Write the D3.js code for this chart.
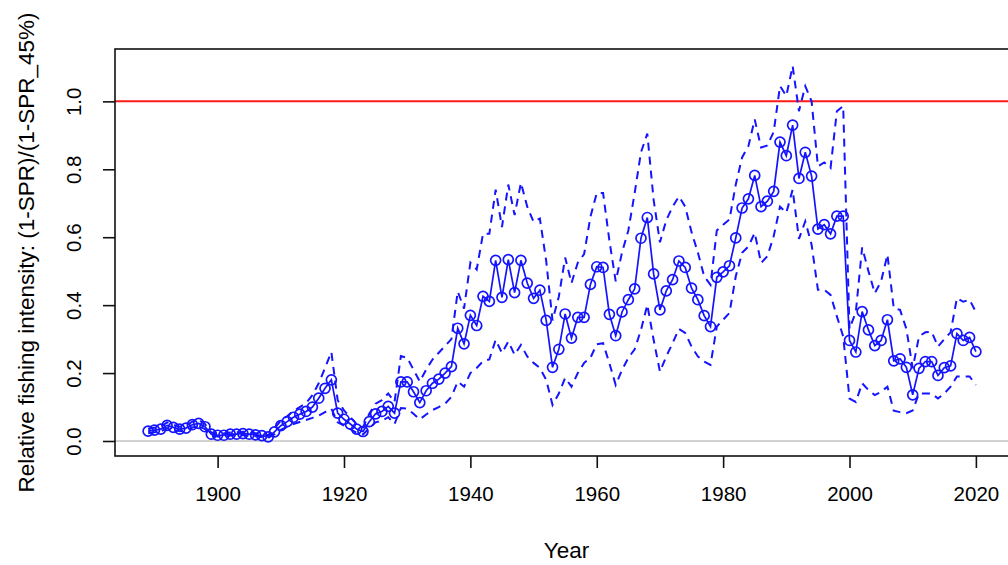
<!DOCTYPE html>
<html>
<head>
<meta charset="utf-8">
<script src="https://cdn.jsdelivr.net/npm/d3@7"></script>
<style>
  html, body { margin: 0; padding: 0; background: #fff; }
  svg { display: block; }
  text { font-family: "Liberation Sans", Arial, Helvetica, sans-serif; fill: #000; }
</style>
</head>
<body>
<svg id="chart" width="1008" height="565"></svg>
<script>
// Relative fishing intensity by year, with upper and lower interval bounds
const years = d3.range(1889, 2021);

const intensity = [
  0.029, 0.032, 0.035, 0.046, 0.040, 0.035, 0.038, 0.048, 0.052, 0.042, // 1889-1898
  0.020, 0.017, 0.017, 0.020, 0.020, 0.022, 0.020, 0.018, 0.016, 0.012, // 1899-1908
  0.027, 0.045, 0.057, 0.070, 0.079, 0.087, 0.100, 0.126, 0.155, 0.180, // 1909-1918
  0.082, 0.064, 0.050, 0.035, 0.028, 0.057, 0.080, 0.087, 0.102, 0.082, // 1919-1928
  0.174, 0.174, 0.145, 0.113, 0.148, 0.170, 0.182, 0.200, 0.219, 0.332, // 1929-1938
  0.286, 0.370, 0.340, 0.426, 0.411, 0.532, 0.423, 0.534, 0.437, 0.532, // 1939-1948
  0.465, 0.420, 0.444, 0.355, 0.217, 0.270, 0.374, 0.303, 0.364, 0.364, // 1949-1958
  0.461, 0.513, 0.511, 0.373, 0.310, 0.380, 0.416, 0.448, 0.597, 0.658, // 1959-1968
  0.492, 0.386, 0.442, 0.475, 0.530, 0.511, 0.450, 0.416, 0.369, 0.337, // 1969-1978
  0.482, 0.498, 0.516, 0.598, 0.686, 0.713, 0.782, 0.690, 0.706, 0.735, // 1979-1988
  0.880, 0.840, 0.930, 0.773, 0.850, 0.780, 0.624, 0.637, 0.610, 0.662, // 1989-1998
  0.662, 0.296, 0.262, 0.381, 0.327, 0.281, 0.296, 0.357, 0.236, 0.242, // 1999-2008
  0.217, 0.136, 0.214, 0.234, 0.234, 0.193, 0.216, 0.221, 0.316, 0.296, // 2009-2018
  0.305, 0.263                                                          // 2019-2020
];

const upper = [
  0.036, 0.039, 0.042, 0.055, 0.048, 0.042, 0.046, 0.057, 0.062, 0.050,
  0.025, 0.022, 0.022, 0.025, 0.025, 0.027, 0.025, 0.023, 0.021, 0.017,
  0.037, 0.060, 0.073, 0.088, 0.100, 0.112, 0.135, 0.170, 0.215, 0.262,
  0.120, 0.090, 0.070, 0.050, 0.040, 0.080, 0.110, 0.120, 0.140, 0.115,
  0.250, 0.245, 0.210, 0.175, 0.210, 0.240, 0.260, 0.280, 0.300, 0.440,
  0.390, 0.525, 0.505, 0.610, 0.610, 0.740, 0.630, 0.755, 0.665, 0.760,
  0.690, 0.645, 0.655, 0.530, 0.355, 0.425, 0.540, 0.465, 0.525, 0.550,
  0.660, 0.730, 0.730, 0.590, 0.470, 0.555, 0.620, 0.730, 0.850, 0.905,
  0.710, 0.585, 0.650, 0.690, 0.720, 0.690, 0.615, 0.555, 0.485, 0.460,
  0.620, 0.637, 0.652, 0.755, 0.835, 0.868, 0.947, 0.864, 0.870, 0.910,
  1.045, 1.016, 1.104, 0.971, 1.045, 1.000, 0.809, 0.820, 0.804, 0.971,
  0.986, 0.330, 0.380, 0.570, 0.500, 0.435, 0.470, 0.549, 0.391, 0.386,
  0.330, 0.214, 0.308, 0.320, 0.322, 0.278, 0.300, 0.320, 0.421, 0.410,
  0.416, 0.380
];

const lower = [
  0.023, 0.026, 0.028, 0.038, 0.033, 0.029, 0.031, 0.040, 0.043, 0.035,
  0.016, 0.013, 0.013, 0.016, 0.016, 0.018, 0.016, 0.014, 0.012, 0.009,
  0.020, 0.033, 0.042, 0.050, 0.056, 0.062, 0.068, 0.075, 0.085, 0.095,
  0.055, 0.045, 0.035, 0.024, 0.019, 0.038, 0.055, 0.060, 0.070, 0.050,
  0.097, 0.095, 0.080, 0.064, 0.078, 0.091, 0.100, 0.110, 0.130, 0.175,
  0.160, 0.200, 0.215, 0.235, 0.240, 0.298, 0.259, 0.293, 0.254, 0.283,
  0.249, 0.230, 0.215, 0.180, 0.106, 0.140, 0.186, 0.160, 0.200, 0.230,
  0.245, 0.285, 0.288, 0.229, 0.165, 0.209, 0.245, 0.270, 0.327, 0.401,
  0.298, 0.204, 0.249, 0.288, 0.330, 0.318, 0.278, 0.249, 0.234, 0.224,
  0.337, 0.357, 0.377, 0.485, 0.554, 0.573, 0.613, 0.524, 0.544, 0.603,
  0.690, 0.672, 0.740, 0.595, 0.647, 0.578, 0.445, 0.445, 0.430, 0.367,
  0.308, 0.125, 0.115, 0.170, 0.150, 0.135, 0.145, 0.160, 0.089, 0.085,
  0.082, 0.090, 0.140, 0.140, 0.140, 0.125, 0.140, 0.160, 0.190, 0.190,
  0.190, 0.165
];

const xTicks = [1900, 1920, 1940, 1960, 1980, 2000, 2020];
const yTicks = [0.0, 0.2, 0.4, 0.6, 0.8, 1.0];
const referenceLevel = 1.0;
const xTitle = "Year";
const yTitle = "Relative fishing intensity: (1-SPR)/(1-SPR_45%)";

// Layout
const plot = { left: 115, right: 1009, top: 49, bottom: 456 };
const tickFont = 20.5;
const titleFont = 22.5;

const svg = d3.select("#chart");

// Axis limits padded by 4% of the data range on each side
const xPad = (d3.max(years) - d3.min(years)) * 0.04;
const x = d3.scaleLinear()
  .domain([d3.min(years) - xPad, d3.max(years) + xPad])
  .range([plot.left, plot.right]);

const yMax = d3.max(upper);
const yPad = yMax * 0.04;
const y = d3.scaleLinear()
  .domain([-yPad, yMax + yPad + 0.006])
  .range([plot.bottom, plot.top]);

const rows = years.map((yr, i) => ({ yr, v: intensity[i], hi: upper[i], lo: lower[i] }));

const g = svg.append("g");

// zero line
g.append("line")
  .attr("x1", plot.left).attr("x2", plot.right)
  .attr("y1", y(0)).attr("y2", y(0))
  .attr("stroke", "#a6a6a6").attr("stroke-width", 1);

// reference line at 1.0
g.append("line")
  .attr("x1", plot.left).attr("x2", plot.right)
  .attr("y1", y(referenceLevel)).attr("y2", y(referenceLevel))
  .attr("stroke", "#ff1a1a").attr("stroke-width", 2);

const blue = "#1414ff";

// interval bounds
const boundLine = key => d3.line().x(d => x(d.yr)).y(d => y(d[key]));
["hi", "lo"].forEach(key => {
  g.append("path")
    .datum(rows)
    .attr("d", boundLine(key))
    .attr("fill", "none")
    .attr("stroke", blue)
    .attr("stroke-width", 2)
    .attr("stroke-dasharray", "8,6");
});

// central estimate
g.append("path")
  .datum(rows)
  .attr("d", d3.line().x(d => x(d.yr)).y(d => y(d.v)))
  .attr("fill", "none")
  .attr("stroke", blue)
  .attr("stroke-width", 1.7);

g.selectAll("circle.pt")
  .data(rows)
  .enter().append("circle")
  .attr("class", "pt")
  .attr("cx", d => x(d.yr))
  .attr("cy", d => y(d.v))
  .attr("r", 5)
  .attr("fill", "none")
  .attr("stroke", blue)
  .attr("stroke-width", 1.7);

// plot frame
g.append("rect")
  .attr("x", plot.left).attr("y", plot.top)
  .attr("width", plot.right - plot.left).attr("height", plot.bottom - plot.top)
  .attr("fill", "none").attr("stroke", "#111").attr("stroke-width", 1.6);

// x axis
const xAxis = d3.axisBottom(x)
  .tickValues(xTicks)
  .tickFormat(d3.format("d"))
  .tickSizeInner(12).tickSizeOuter(0).tickPadding(18);
const gx = svg.append("g")
  .attr("transform", `translate(0,${plot.bottom})`)
  .call(xAxis);
gx.select(".domain").remove();
gx.selectAll(".tick line").attr("stroke", "#111").attr("stroke-width", 1.6);
gx.selectAll(".tick text")
  .attr("font-size", tickFont)
  .style("font-family", "'Liberation Sans', Arial, sans-serif")
  .attr("fill", "#222");

// y axis, labels rotated parallel to the axis
const yAxis = d3.axisLeft(y)
  .tickValues(yTicks)
  .tickFormat(d3.format(".1f"))
  .tickSizeInner(12).tickSizeOuter(0).tickPadding(0);
const gy = svg.append("g")
  .attr("transform", `translate(${plot.left},0)`)
  .call(yAxis);
gy.select(".domain").remove();
gy.selectAll(".tick line").attr("stroke", "#111").attr("stroke-width", 1.6);
gy.selectAll(".tick text")
  .attr("font-size", tickFont)
  .style("font-family", "'Liberation Sans', Arial, sans-serif")
  .attr("fill", "#222")
  .attr("x", null).attr("dy", null)
  .attr("text-anchor", "middle")
  .attr("transform", "translate(-42,0) rotate(-90)")
  .attr("y", 0)
  .attr("dominant-baseline", "central");

// axis titles
svg.append("text")
  .attr("x", x(1955.2)).attr("y", 558)
  .attr("text-anchor", "middle")
  .attr("font-size", titleFont)
  .attr("fill", "#222")
  .text(xTitle);

svg.append("text")
  .attr("transform", `translate(34,${(plot.top + plot.bottom) / 2}) rotate(-90)`)
  .attr("text-anchor", "middle")
  .attr("font-size", titleFont)
  .attr("fill", "#222")
  .text(yTitle);
</script>
</body>
</html>
